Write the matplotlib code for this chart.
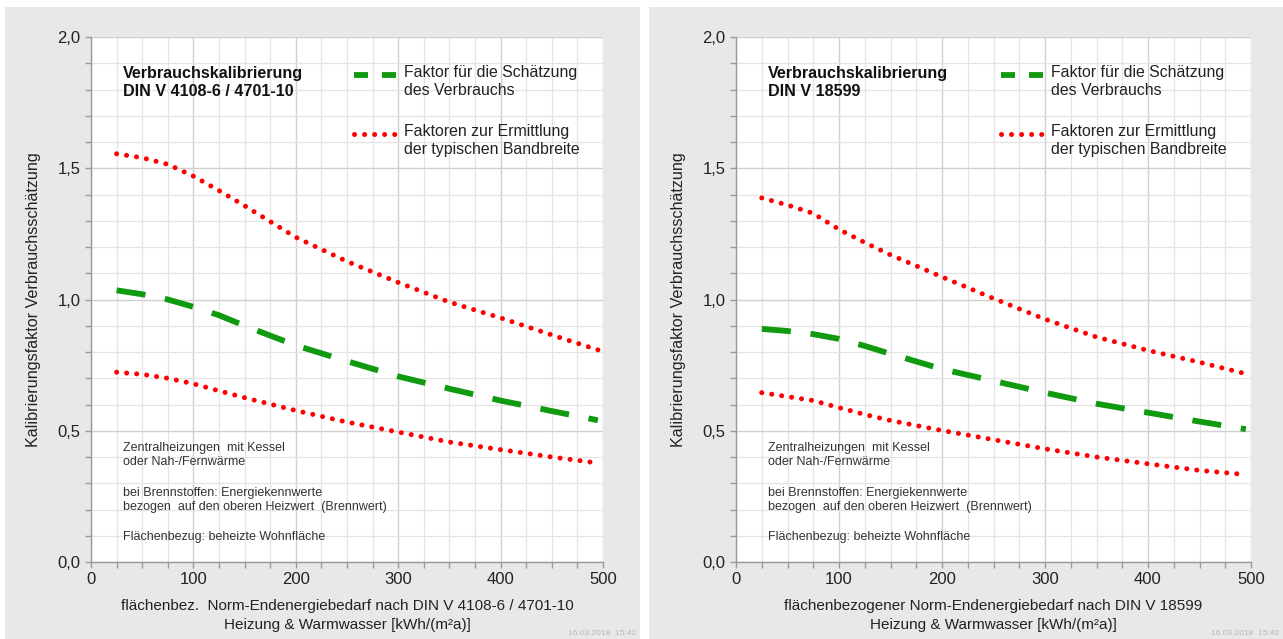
import matplotlib
matplotlib.use("Agg")
import matplotlib.pyplot as plt
from matplotlib.patches import Rectangle
from matplotlib.ticker import MultipleLocator, FuncFormatter

plt.rcParams['font.family'] = ['Liberation Sans', 'DejaVu Sans']

# --- data ---
x_pts = [25, 50, 75, 100, 125, 150, 200, 250, 300, 350, 400, 450, 495]

# left: DIN V 4108-6 / 4701-10
left_mid = [1.035, 1.02, 1.0, 0.972, 0.94, 0.90, 0.825, 0.765, 0.707, 0.66, 0.615, 0.575, 0.54]
left_hi = [1.555, 1.54, 1.515, 1.47, 1.415, 1.357, 1.237, 1.145, 1.065, 0.99, 0.93, 0.865, 0.808]
left_lo = [0.723, 0.715, 0.70, 0.679, 0.652, 0.626, 0.577, 0.533, 0.495, 0.457, 0.428, 0.40, 0.377]

# right: DIN V 18599
right_mid = [0.888, 0.88, 0.868, 0.85, 0.823, 0.793, 0.735, 0.69, 0.645, 0.603, 0.569, 0.535, 0.506]
right_hi = [1.387, 1.36, 1.328, 1.267, 1.217, 1.17, 1.086, 1.004, 0.925, 0.857, 0.806, 0.761, 0.717]
right_lo = [0.645, 0.63, 0.615, 0.588, 0.562, 0.539, 0.501, 0.466, 0.431, 0.40, 0.374, 0.349, 0.333]

titles = ["Verbrauchskalibrierung\nDIN V 4108-6 / 4701-10",
          "Verbrauchskalibrierung\nDIN V 18599"]
xlabels = ["flächenbez.  Norm-Endenergiebedarf nach DIN V 4108-6 / 4701-10\nHeizung & Warmwasser [kWh/(m²a)]",
           "flächenbezogener Norm-Endenergiebedarf nach DIN V 18599\nHeizung & Warmwasser [kWh/(m²a)]"]
ylabel = "Kalibrierungsfaktor Verbrauchsschätzung"
legend_mid = "Faktor für die Schätzung\ndes Verbrauchs"
legend_band = "Faktoren zur Ermittlung\nder typischen Bandbreite"
notes = ["Zentralheizungen  mit Kessel\noder Nah-/Fernwärme",
         "bei Brennstoffen: Energiekennwerte\nbezogen  auf den oberen Heizwert  (Brennwert)",
         "Flächenbezug: beheizte Wohnfläche"]
stamp = "16.03.2018  15:42"

W, H = 1283, 639
fig = plt.figure(figsize=(W / 100, H / 100), dpi=100)
fig.patch.set_facecolor('white')

# gray panel backgrounds
for x0, x1 in [(5, 640), (649, 1283)]:
    fig.patches.append(Rectangle((x0 / W, 0), (x1 - x0) / W, 1 - 7 / H,
                                 transform=fig.transFigure, facecolor='#e8e8e8',
                                 edgecolor='none', zorder=-10))

green = '#109a10'
red = '#ff0000'
dash = (0, (5, 3.4))
dots = (0, (0.01, 2.0))

panels = [
    (91, 603, left_mid, left_hi, left_lo, 0),
    (736, 1251, right_mid, right_hi, right_lo, 1),
]

fmt = FuncFormatter(lambda v, p: f"{v:.1f}".replace('.', ','))

for px0, px1, mid, hi, lo, i in panels:
    ax = fig.add_axes([px0 / W, 1 - 562 / H, (px1 - px0) / W, (562 - 37) / H])
    ax.set_facecolor('white')
    ax.set_xlim(0, 500)
    ax.set_ylim(0, 2.0)
    ax.xaxis.set_major_locator(MultipleLocator(100))
    ax.xaxis.set_minor_locator(MultipleLocator(25))
    ax.yaxis.set_major_locator(MultipleLocator(0.5))
    ax.yaxis.set_minor_locator(MultipleLocator(0.1))
    ax.yaxis.set_major_formatter(fmt)
    ax.grid(which='major', color='#d0d0d0', lw=1.0)
    ax.grid(which='minor', color='#e4e4e4', lw=0.9)
    ax.set_axisbelow(True)
    for s in ['top', 'right']:
        ax.spines[s].set_visible(False)
    for s in ['left', 'bottom']:
        ax.spines[s].set_color('#9a9a9a')
        ax.spines[s].set_linewidth(1.0)
    ax.tick_params(which='both', colors='#9a9a9a', labelcolor='#222222',
                   labelsize=12, length=4, width=1)
    ax.tick_params(axis='x', pad=3)

    ax.plot(x_pts, mid, color=green, lw=4.2, linestyle=dash, solid_capstyle='butt')
    ax.plot(x_pts, hi, color=red, lw=3.6, linestyle=dots, dash_capstyle='round')
    ax.plot(x_pts, lo, color=red, lw=3.6, linestyle=dots, dash_capstyle='round')

    ax.text(31, 1.888, titles[i], fontsize=11.6, fontweight='bold', va='top',
            linespacing=1.2, color='#111111')

    # legend drawn by hand
    ax.plot([257, 298], [1.855, 1.855], color=green, lw=4.2, linestyle=(0, (2.4, 2.4)),
            solid_capstyle='butt')
    ax.text(306, 1.83, legend_mid, fontsize=11.4, va='center', linespacing=1.2,
            color='#222222')
    ax.plot([257, 297], [1.63, 1.63], color=red, lw=3.6, linestyle=dots,
            dash_capstyle='round')
    ax.text(306, 1.605, legend_band, fontsize=11.4, va='center', linespacing=1.2,
            color='#222222')

    ax.text(31, 0.408, notes[0], fontsize=9, va='center', linespacing=1.25, color='#333333')
    ax.text(31, 0.236, notes[1], fontsize=9, va='center', linespacing=1.25, color='#333333')
    ax.text(31, 0.095, notes[2], fontsize=9, va='center', color='#333333')

    ax.set_xlabel(xlabels[i], fontsize=11, labelpad=9, linespacing=1.4, color='#222222')
    ax.set_ylabel(ylabel, fontsize=11.6, labelpad=12, color='#222222')

    panel_right = 640 if i == 0 else 1283
    fig.text((panel_right - 4) / W, 2 / H, stamp, fontsize=6, color='#b8b8b8',
             ha='right', va='bottom')

fig.savefig('out.png', dpi=100)
